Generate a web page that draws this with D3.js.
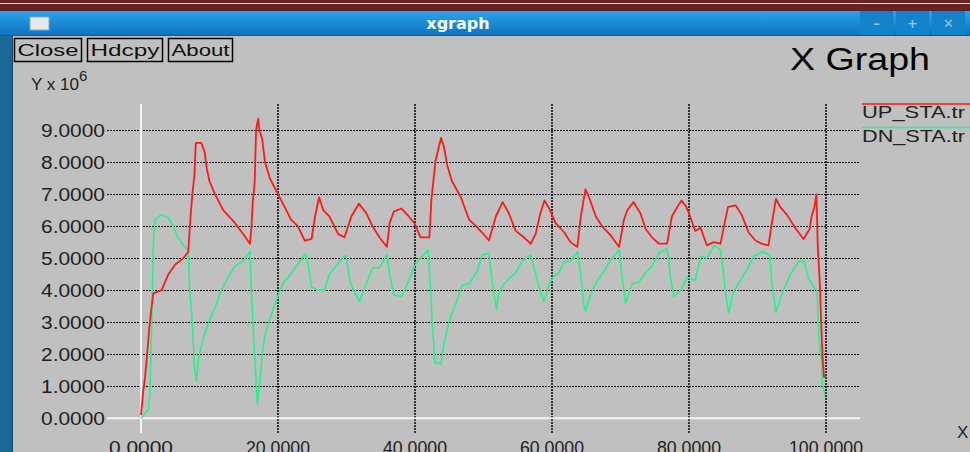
<!DOCTYPE html>
<html><head><meta charset="utf-8">
<script src="https://cdn.jsdelivr.net/npm/d3@7"></script>
<style>html,body{margin:0;padding:0;background:#c0c0c0;overflow:hidden}svg{display:block}</style>
</head><body>
<script>
const upX = [0,0.3,0.6,0.9,1.2,1.5,1.8,3.0,4.0,5.0,6.2,6.9,7.2,7.5,7.8,8.0,8.8,9.3,9.6,10.0,10.8,12.0,13.7,15.1,15.9,16.1,16.3,16.6,16.8,17.1,17.3,17.7,18.1,18.8,20.0,21.2,21.9,22.9,23.9,24.9,25.4,26.0,26.6,27.5,28.8,29.7,30.7,31.8,32.9,33.8,34.8,35.9,36.3,36.9,38.0,39.1,39.9,40.8,42.1,42.4,43.0,43.8,44.2,44.7,45.4,46.7,47.9,48.9,49.8,50.8,51.8,52.8,53.7,54.7,55.9,56.9,57.6,58.3,58.9,59.6,60.5,61.8,62.7,63.7,64.2,64.6,64.9,65.4,66.4,67.3,68.6,69.8,70.5,71.0,71.9,72.9,73.7,74.6,75.6,76.8,77.5,78.3,78.9,79.6,80.0,80.9,81.7,82.1,82.6,83.6,84.6,85.1,85.7,86.8,87.7,88.7,89.7,90.6,91.6,92.1,92.7,93.3,94.3,95.5,96.7,97.6,97.9,98.3,98.6,98.8,99.1,99.3,99.5,99.7,100];
const upY = [0.1,0.8,1.3,2.0,2.8,3.4,3.9,4.0,4.5,4.8,5.0,5.2,6.2,7.0,7.6,8.6,8.6,8.3,7.8,7.4,7.0,6.5,6.1,5.7,5.45,5.9,6.7,7.4,9.0,9.35,9.0,8.7,8.0,7.5,7.0,6.5,6.2,6.0,5.55,5.6,6.3,6.9,6.5,6.3,5.75,5.65,6.3,6.7,6.4,6.0,5.65,5.35,6.1,6.45,6.55,6.3,6.1,5.65,5.65,6.85,8.05,8.75,8.5,7.9,7.4,6.9,6.2,6.0,5.8,5.55,6.3,6.75,6.4,5.85,5.65,5.45,5.75,6.4,6.8,6.55,6.1,5.8,5.5,5.35,6.3,6.8,7.15,6.9,6.3,6.0,5.7,5.35,6.2,6.5,6.75,6.4,5.9,5.65,5.45,5.45,6.3,6.6,6.8,6.6,6.4,5.85,5.95,5.7,5.4,5.5,5.45,6.0,6.6,6.65,6.35,5.8,5.55,5.45,5.4,6.1,6.85,6.6,6.35,5.95,5.6,5.9,6.3,6.6,7.0,5.35,4.2,2.95,1.9,1.3,1.3];
const dnX = [0,1.07,1.3,1.55,1.8,2.04,2.9,4.0,4.7,5.4,6.2,6.9,7.1,7.5,7.8,8.1,8.4,9.1,9.8,10.8,11.7,12.7,13.7,14.9,15.9,16.1,16.6,17.0,17.3,17.7,18.1,18.8,19.8,20.7,22.0,22.9,24.0,24.4,24.9,25.8,26.8,27.5,28.3,29.0,29.9,30.5,31.0,31.9,32.9,33.8,34.8,35.9,36.3,36.9,38.0,38.9,39.9,40.8,41.9,42.3,42.5,42.9,43.8,44.2,45.0,45.9,46.9,47.9,49.1,49.8,50.8,51.3,51.9,52.2,53.0,53.7,54.7,55.6,56.9,57.6,58.3,58.85,59.6,60.3,61.0,61.8,62.7,63.7,64.2,64.6,64.9,65.6,66.6,67.6,68.6,69.8,70.3,70.75,71.7,72.7,73.7,74.6,75.6,76.8,77.3,77.8,78.8,79.7,80.9,81.7,82.6,83.7,84.6,85.1,85.5,85.8,86.5,87.5,88.5,89.4,90.7,91.8,92.1,92.7,93.6,94.8,96.0,96.8,97.4,98.2,98.7,99.0,99.3,99.5,99.8,100];
const dnY = [0,0.28,0.75,2.85,5.45,6.2,6.35,6.25,6.0,5.65,5.4,5.25,4.1,2.95,1.6,1.15,1.9,2.5,2.95,3.45,4.0,4.4,4.75,4.9,5.2,4.0,1.9,0.45,1.05,2.0,2.6,3.1,3.7,4.2,4.55,4.8,5.15,4.8,4.1,4.0,4.0,4.5,4.7,4.9,5.1,4.3,4.0,3.65,4.2,4.7,4.7,5.1,4.5,3.85,3.8,4.2,4.75,5.0,5.25,4.0,3.05,1.75,1.7,2.3,3.05,3.55,4.15,4.2,4.6,5.1,5.15,4.2,3.4,3.9,4.2,4.35,4.55,4.9,5.1,4.5,3.95,3.65,4.2,4.45,4.55,4.9,4.9,5.2,4.5,3.6,3.35,3.85,4.3,4.6,4.95,5.25,4.3,3.6,4.2,4.25,4.55,4.75,5.15,5.3,4.4,3.8,4.0,4.4,4.3,5.05,5.0,5.4,5.25,4.4,3.65,3.3,3.95,4.3,4.65,5.05,5.2,5.1,4.2,3.3,3.9,4.5,4.9,4.9,4.4,4.1,4.0,2.4,1.9,1.05,0.75,0.75];
const yTicks = [0,1,2,3,4,5,6,7,8,9];
const xTicks = [0,20,40,60,80,100];
const seriesNames = ["UP_STA.tr","DN_STA.tr"];
const seriesColors = ["#ff1a1a","#1ef58a"];
const buttons = ["Close","Hdcpy","About"];

const W = 970, H = 452;
const svg = d3.select("body").append("svg").attr("width", W).attr("height", H);
const defs = svg.append("defs");
const g1 = defs.append("linearGradient").attr("id","tb").attr("x1",0).attr("y1",0).attr("x2",0).attr("y2",1);
g1.append("stop").attr("offset","0%").attr("stop-color","#2aa3ea");
g1.append("stop").attr("offset","100%").attr("stop-color","#0b72bd");

// window chrome
svg.append("rect").attr("x",0).attr("y",0).attr("width",W).attr("height",H).attr("fill","#c0c0c0");
svg.append("rect").attr("x",0).attr("y",0).attr("width",W).attr("height",11).attr("fill","#652422");
svg.append("rect").attr("x",0).attr("y",3).attr("width",W).attr("height",1).attr("fill","#e8d8d8");
svg.append("rect").attr("x",0).attr("y",11).attr("width",W).attr("height",25).attr("fill","url(#tb)");
svg.append("rect").attr("x",0).attr("y",35).attr("width",W).attr("height",1).attr("fill","#0a5a95");
svg.append("rect").attr("x",0).attr("y",36).attr("width",12).attr("height",H-36).attr("fill","#1a6896");
svg.append("rect").attr("x",12).attr("y",36).attr("width",1).attr("height",H-36).attr("fill","#0d4a70");
svg.append("rect").attr("x",30).attr("y",17).attr("width",19).attr("height",13).attr("fill","#e8e8e8").attr("stroke","#7aaed0");
svg.append("text").attr("x",458).attr("y",29).attr("text-anchor","middle")
  .attr("font-family","DejaVu Sans").attr("font-weight","bold").attr("font-size",16).attr("fill","#fff").text("xgraph");
const wb = [{x:860,s:"–"},{x:896,s:"+"},{x:932,s:"✕"}];
wb.forEach(b=>{
  svg.append("rect").attr("x",b.x).attr("y",11).attr("width",33).attr("height",24).attr("fill","#1583cc");
  svg.append("text").attr("x",b.x+16.5).attr("y",28).attr("text-anchor","middle").attr("font-family","DejaVu Sans")
    .attr("font-weight","bold").attr("font-size",13).attr("fill","#8cc6ec").text(b.s);
});

// buttons
const bx = [14,87,168], bw = [67,75,64];
buttons.forEach((b,i)=>{
  svg.append("rect").attr("x",bx[i]+0.5).attr("y",38.5).attr("width",bw[i]).attr("height",23).attr("fill","none").attr("stroke","#000").attr("stroke-width",1.5);
  svg.append("text").attr("x",bx[i]+bw[i]/2+0.5).attr("y",56).attr("text-anchor","middle")
    .attr("font-family","Liberation Sans").attr("font-size",17).attr("fill","#111").attr("textLength",bw[i]-6).attr("lengthAdjust","spacingAndGlyphs").text(b);
});

svg.append("text").attr("x",790).attr("y",70).attr("font-family","Liberation Sans").attr("font-size",31)
  .attr("fill","#000").attr("textLength",140).attr("lengthAdjust","spacingAndGlyphs").text("X Graph");
const yl = svg.append("text").attr("x",31).attr("y",90).attr("font-family","Liberation Sans").attr("font-size",17).attr("fill","#222");
yl.append("tspan").text("Y x 10");
yl.append("tspan").attr("dy",-9).attr("font-size",15).text("6");
svg.append("text").attr("x",957).attr("y",438).attr("font-family","Liberation Sans").attr("font-size",17).attr("fill","#222").text("X");

// scales
const x = d3.scaleLinear().domain([0,100]).range([141,826]);
const y = d3.scaleLinear().domain([0,9]).range([418.3,130]);
const gx0 = 107, gx1 = 860, gy0 = 104, gy1 = 433;

// grid
svg.append("g").selectAll("line").data(yTicks.filter(d=>d>0)).join("line")
  .attr("x1",gx0).attr("x2",gx1).attr("y1",d=>Math.round(y(d))+0.5).attr("y2",d=>Math.round(y(d))+0.5)
  .attr("stroke","#111").attr("stroke-width",1.2).attr("stroke-dasharray","2,1");
svg.append("g").selectAll("line").data(xTicks.filter(d=>d>0)).join("line")
  .attr("x1",d=>Math.round(x(d))).attr("x2",d=>Math.round(x(d))).attr("y1",gy0).attr("y2",gy1)
  .attr("stroke","#111").attr("stroke-width",1.6).attr("stroke-dasharray","2,1");
svg.append("line").attr("x1",gx0).attr("x2",gx1).attr("y1",y(0)).attr("y2",y(0)).attr("stroke","#f4f4f4").attr("stroke-width",2);
svg.append("line").attr("x1",x(0)).attr("x2",x(0)).attr("y1",gy0).attr("y2",gy1).attr("stroke","#f4f4f4").attr("stroke-width",2);

// tick labels
svg.append("g").selectAll("text").data(yTicks).join("text")
  .attr("x",105).attr("y",d=>y(d)+6.5).attr("text-anchor","end")
  .attr("font-family","Liberation Sans").attr("font-size",18).attr("fill","#222")
  .attr("textLength",64).attr("lengthAdjust","spacingAndGlyphs").text(d=>d3.format(".4f")(d));
svg.append("g").selectAll("text").data(xTicks).join("text")
  .attr("x",d=>x(d)).attr("y",454).attr("text-anchor","middle")
  .attr("font-family","Liberation Sans").attr("font-size",18).attr("fill","#222")
  .attr("textLength",d=>d===100?74:64).attr("lengthAdjust","spacingAndGlyphs").text(d=>d3.format(".4f")(d));

// lines
const line = d3.line().x(d=>x(d[0])).y(d=>y(d[1]));
const upData = d3.zip(upX, upY), dnData = d3.zip(dnX, dnY);
svg.append("path").datum(dnData).attr("d",line).attr("fill","none").attr("stroke",seriesColors[1]).attr("stroke-width",1.6).attr("stroke-linejoin","round");
svg.append("path").datum(upData).attr("d",line).attr("fill","none").attr("stroke",seriesColors[0]).attr("stroke-width",1.8).attr("stroke-linejoin","round");

// legend
const legY = [104,127.5];
seriesNames.forEach((n,i)=>{
  svg.append("line").attr("x1",862).attr("x2",970).attr("y1",legY[i]).attr("y2",legY[i]).attr("stroke",seriesColors[i]).attr("stroke-width",1.6);
  svg.append("text").attr("x",862).attr("y",legY[i]+14).attr("font-family","Liberation Sans").attr("font-size",17)
    .attr("fill","#222").attr("textLength",103).attr("lengthAdjust","spacingAndGlyphs").text(n);
});
</script>
</body></html>
